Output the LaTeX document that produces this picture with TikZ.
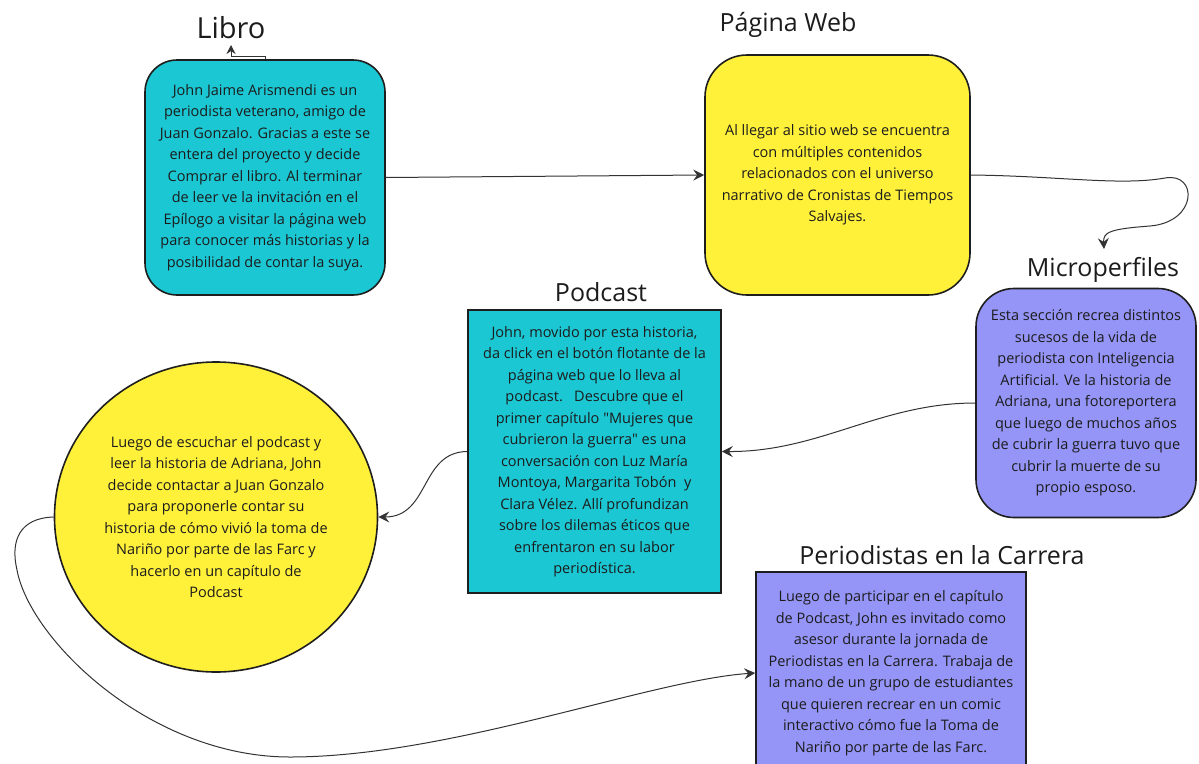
\documentclass[tikz,border=0pt]{standalone}
\usepackage{fontspec}
\setmainfont{Open Sans}[Ligatures=TeXOff]
\usetikzlibrary{arrows.meta,shapes.geometric}
\definecolor{cy}{HTML}{1BC7D3}
\definecolor{ye}{HTML}{FFF03A}
\definecolor{lav}{HTML}{9595F8}
\definecolor{ink}{HTML}{1C1C1C}
\definecolor{edgec}{HTML}{1E1E1E}
\definecolor{linec}{HTML}{333333}
\tikzset{
  box/.style={draw=edgec, line width=1.6pt, text=ink, align=center,
    font=\fontsize{14.5}{21.5}\selectfont, inner sep=0pt},
  ttl/.style={text=ink, font=\fontsize{25}{30}\selectfont, inner sep=0pt},
  conn/.style={draw=linec, line width=1pt,
    -{Stealth[length=11pt,width=11pt,inset=4pt]}}
}
\begin{document}
\begin{tikzpicture}[x=1pt,y=-1pt]
\useasboundingbox[fill=white] (0,0) rectangle (1199,763);

% titles
\node[ttl, font=\fontsize{29}{34}\selectfont] (tlibro) at (231,28) {Libro};
\node[ttl] (tweb) at (788,25) {Página Web};
\node[ttl] (tmicro) at (1103,270) {Microperfiles};
\node[ttl] (tpod) at (601,292) {Podcast};
\node[ttl] (tper) at (942,555) {Periodistas en la Carrera};

% boxes
\node[box, fill=cy, rounded corners=32pt, minimum width=240pt, minimum height=235pt] (libro) at (265,177.5)
 {John Jaime Arismendi es un\\periodista veterano, amigo de\\Juan Gonzalo. Gracias a este se\\entera del proyecto y decide\\Comprar el libro. Al terminar\\de leer ve la invitación en el\\Epílogo a visitar la página web\\para conocer más historias y la\\posibilidad de contar la suya.};

\node[box, fill=ye, rounded corners=42pt, minimum width=265pt, minimum height=240pt] (web) at (837.5,175)
 {Al llegar al sitio web se encuentra\\con múltiples contenidos\\relacionados con el universo\\narrativo de Cronistas de Tiempos\\Salvajes.};

\node[box, fill=lav, rounded corners=38pt, minimum width=220pt, minimum height=229pt] (micro) at (1086,403)
 {Esta sección recrea distintos\\sucesos de la vida de\\periodista con Inteligencia\\Artificial. Ve la historia de\\Adriana, una fotoreportera\\que luego de muchos años\\de cubrir la guerra tuvo que\\cubrir la muerte de su\\propio esposo.};

\node[box, fill=cy, minimum width=253pt, minimum height=283pt] (pod) at (594.5,451.5)
 {John, movido por esta historia,\\da click en el botón flotante de la\\página web que lo lleva al\\podcast.\ \ \ Descubre que el\\primer capítulo "Mujeres que\\cubrieron la guerra" es una\\conversación con Luz María\\Montoya, Margarita Tobón\ \ y\\Clara Vélez. Allí profundizan\\sobre los dilemas éticos que\\enfrentaron en su labor\\periodística.};

\node[box, fill=ye, ellipse, minimum width=323pt, minimum height=310pt] (circ) at (216,517)
 {Luego de escuchar el podcast y\\leer la historia de Adriana, John\\decide contactar a Juan Gonzalo\\para proponerle contar su\\historia de cómo vivió la toma de\\Nariño por parte de las Farc y\\hacerlo en un capítulo de\\Podcast};

\node[box, fill=lav, minimum width=270pt, minimum height=202pt] (per) at (891,673)
 {Luego de participar en el capítulo\\de Podcast, John es invitado como\\asesor durante la jornada de\\Periodistas en la Carrera. Trabaja de\\la mano de un grupo de estudiantes\\que quieren recrear en un comic\\interactivo cómo fue la Toma de\\Nariño por parte de las Farc.};

% connectors
\coordinate (lup) at (231,45);
\draw[conn, -{Stealth[length=9pt,width=9pt,inset=3pt]}] (libro.north) -- ++(0,-3) -| (lup);

\draw[conn] (libro.east) -- (web.west);

\draw[conn] (web.east) .. controls (1060,176) and (1120,186) .. (1165,178)
  .. controls (1198,172) and (1198,222) .. (1150,226)
  .. controls (1110,229) and (1103,232) .. (1104,249);

\draw[conn] (micro.west) .. controls (880,403) and (820,452) .. (pod.east);

\draw[conn] (pod.west) .. controls (420,452) and (430,517) .. (circ.east);

\draw[conn] (circ.west) .. controls (20,518) and (10,540) .. (17,570)
  .. controls (30,640) and (150,757) .. (290,757)
  .. controls (450,757) and (650,680) .. (per.west);
\end{tikzpicture}
\end{document}
